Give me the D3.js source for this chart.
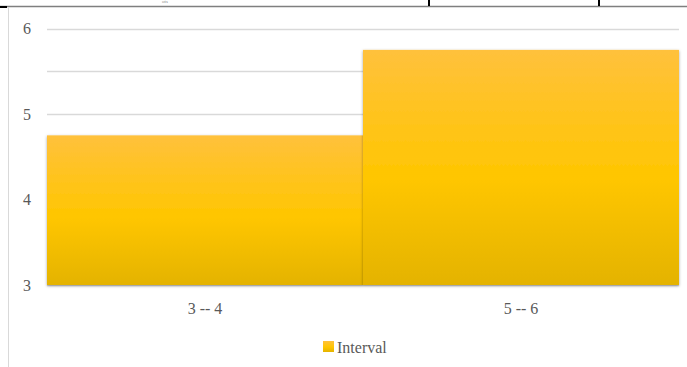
<!DOCTYPE html>
<html>
<head>
<meta charset="utf-8">
<script src="https://cdn.jsdelivr.net/npm/d3@7/dist/d3.min.js"></script>
<style>
  html, body { margin: 0; padding: 0; background: #fff; }
  svg { display: block; }
</style>
</head>
<body>
<script>
// Chart data
const categories = ["3 -- 4", "5 -- 6"];
const intervalValues = [4.75, 5.75];
const yTicks = [3, 4, 5, 6];
const gridValues = [3, 3.5, 4, 4.5, 5, 5.5, 6];
const seriesName = "Interval";

const FONT = "'Liberation Serif', 'Times New Roman', serif";
const W = 687, H = 367;
const svg = d3.select("body").append("svg").attr("width", W).attr("height", H);

const defs = svg.append("defs");
const grad = defs.append("linearGradient")
  .attr("id", "barFill").attr("x1", 0).attr("y1", 0).attr("x2", 0).attr("y2", 1);
grad.append("stop").attr("offset", "0%").attr("stop-color", "#FFC13C");
grad.append("stop").attr("offset", "55%").attr("stop-color", "#FFC600");
grad.append("stop").attr("offset", "100%").attr("stop-color", "#E4B300");

const shadow = defs.append("filter").attr("id", "barShadow")
  .attr("x", "-5%").attr("y", "-5%").attr("width", "110%").attr("height", "110%");
shadow.append("feDropShadow").attr("dx", 0).attr("dy", 1).attr("stdDeviation", 1.5)
  .attr("flood-color", "#000").attr("flood-opacity", 0.35);

// Surrounding document rules above the chart frame
svg.append("text").attr("x", 165).attr("y", 3).attr("text-anchor", "middle")
  .style("font-family", FONT).style("font-size", "5px").style("fill", "#8c8c8c").text("ots");
svg.append("line").attr("x1", 0).attr("x2", W).attr("y1", 6.5).attr("y2", 6.5)
  .attr("stroke", "#7f7f7f").attr("stroke-width", 1.5);
svg.append("rect").attr("x", 0).attr("y", 6).attr("width", 7).attr("height", 2).attr("fill", "#000");
[429, 599].forEach(x => {
  svg.append("line").attr("x1", x).attr("x2", x).attr("y1", 0).attr("y2", 6)
    .attr("stroke", "#000").attr("stroke-width", 2);
});
// Chart frame left edge
svg.append("line").attr("x1", 8.5).attr("x2", 8.5).attr("y1", 7).attr("y2", H)
  .attr("stroke", "#d9d9d9").attr("stroke-width", 1);

const plot = { left: 47, right: 679, top: 28.5, bottom: 285 };

const x = d3.scaleBand().domain(categories).range([plot.left, plot.right]).padding(0);
const y = d3.scaleLinear().domain([3, 6]).range([plot.bottom, plot.top]);

// Gridlines
svg.append("g").selectAll("line").data(gridValues).join("line")
  .attr("x1", plot.left).attr("x2", plot.right)
  .attr("y1", d => Math.round(y(d)) + 0.5).attr("y2", d => Math.round(y(d)) + 0.5)
  .attr("stroke", "#d9d9d9").attr("stroke-width", 1.5);

// Y axis labels
const yAxis = d3.axisLeft(y).tickValues(yTicks).tickSize(0).tickPadding(0).tickFormat(d3.format("d"));
const yg = svg.append("g").attr("transform", `translate(31,0)`).call(yAxis);
yg.attr("font-family", null);
yg.select(".domain").remove();
yg.selectAll("text").style("font-size", "16px").style("font-family", FONT).style("fill", "#595959");

// Bars
svg.append("g").selectAll("rect").data(categories).join("rect")
  .attr("x", d => x(d))
  .attr("width", x.bandwidth())
  .attr("y", (d, i) => y(intervalValues[i]))
  .attr("height", (d, i) => y(3) - y(intervalValues[i]))
  .attr("fill", "url(#barFill)")
  .attr("filter", "url(#barShadow)");

// X axis labels
const xAxis = d3.axisBottom(x).tickSize(0).tickPadding(0);
const xg = svg.append("g").attr("transform", `translate(0,${plot.bottom + 18})`).call(xAxis);
xg.attr("font-family", null);
xg.select(".domain").remove();
xg.selectAll("text").style("font-size", "16px").style("font-family", FONT).style("fill", "#595959");

// Legend
const legend = svg.append("g").attr("transform", "translate(323,341)");
legend.append("rect").attr("width", 11).attr("height", 11).attr("fill", "url(#barFill)");
legend.append("text").attr("x", 14).attr("y", 11.5)
  .style("font-size", "16px").style("font-family", FONT).style("fill", "#595959").text(seriesName);
</script>
</body>
</html>
